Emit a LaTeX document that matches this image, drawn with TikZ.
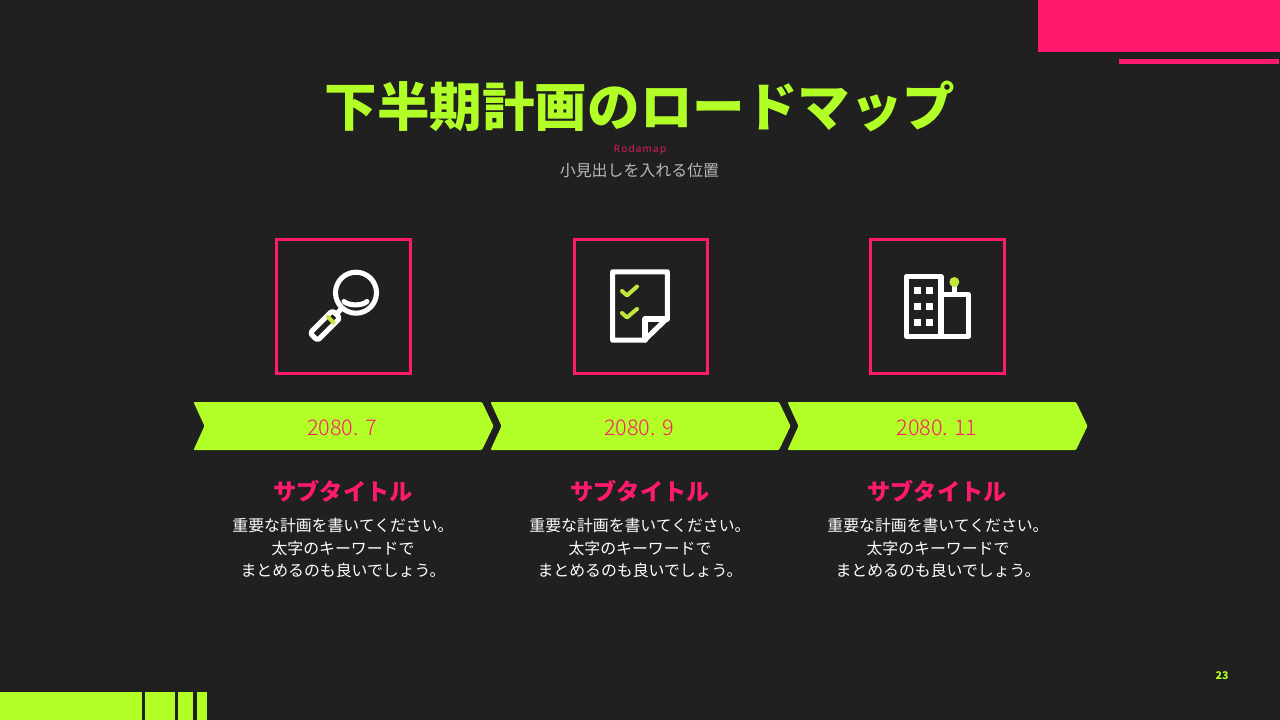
\documentclass[tikz,border=0pt]{standalone}
\usepackage{fontspec}
\newfontfamily\cjk{Noto Sans CJK JP}
\newfontfamily\cjklight{Noto Sans CJK JP Light}
\newfontfamily\latinspaced[LetterSpace=12]{Noto Sans}
\definecolor{bgdark}{HTML}{202020}
\definecolor{limegreen}{HTML}{B2FF27}
\definecolor{hotpink}{HTML}{FF1A6E}
\definecolor{icongreen}{HTML}{BFE83A}
\definecolor{subgray}{HTML}{B8B8B8}
\begin{document}
\begin{tikzpicture}[x=0.75pt,y=-0.75pt,
        iconbox/.style={draw=hotpink,line width=2.25pt},
        iconline/.style={draw=white,line width=3.8pt,line join=round,line cap=round},
        iconaccent/.style={draw=icongreen,line width=3pt,line join=round,line cap=round},
        chevron/.style={fill=limegreen,rounded corners=0.8pt},
        datelabel/.style={text=hotpink,inner sep=0pt,font=\cjklight\fontsize{16.2}{20}\selectfont},
        subtitle/.style={text=hotpink,inner sep=0pt,font=\cjk\bfseries\fontsize{17.4}{20}\selectfont},
        bodytext/.style={text=white,inner sep=0pt,align=center,font=\cjk\fontsize{11.9}{16.9}\selectfont}]
    \fill[bgdark] (0,0) rectangle (1280,720);
    \useasboundingbox (0,0) rectangle (1280,720);
    \fill[hotpink] (1038,0) rectangle (1280,52);
    \fill[hotpink] (1119,59) rectangle (1279,64.5);
    \fill[limegreen] (0,692) rectangle (142,720);
    \fill[limegreen] (145,692) rectangle (175,720);
    \fill[limegreen] (178,692) rectangle (193,720);
    \fill[limegreen] (197,692) rectangle (207,720);
    \node[inner sep=0pt,text=limegreen,font=\cjk\bfseries\fontsize{39.4}{46}\selectfont] (title) at (640,106) {下半期計画のロードマップ};
    \node[inner sep=0pt,text=hotpink!85!bgdark,font=\latinspaced\fontsize{7.5}{9}\selectfont] (rodamap) at (640,150) {Rodamap};
    \node[inner sep=0pt,text=subgray,font=\cjk\fontsize{11.95}{14}\selectfont] (subhead) at (639.5,170) {小見出しを入れる位置};
    \draw[iconbox] (276.5,239.5) rectangle (410.5,373.5);
    \draw[iconbox] (574,239.5) rectangle (707,373.5);
    \draw[iconbox] (870.5,239.5) rectangle (1004.5,373.5);
    \draw[iconline] (356,292.7) circle (20.5);
    \draw[iconline] (344,301.5) .. controls (349,306) and (362,306) .. (367,301.5);
    \draw[iconline] (341,309) -- (337,313.5);
    \draw[iconline,rounded corners=2pt] (340,318) -- (332.5,310.5) -- (310,333) -- (317.5,340.5) -- cycle;
    \draw[iconaccent] (328,317) -- (333.5,322.5);
    \draw[iconline] (612.6,271.8) -- (667.4,271.8) -- (667.4,318) -- (644.5,340.2) -- (612.6,340.2) -- cycle;
    \draw[iconline] (667.4,319) -- (645,319) -- (645,340.2);
    \draw[iconaccent] (622,291) -- (627,295.5) -- (637,286.5);
    \draw[iconaccent] (622,313) -- (627,317.5) -- (637,309);
    \draw[iconline] (906.5,276.5) -- (941,276.5) -- (941,336.5) -- (906.5,336.5) -- cycle;
    \draw[iconline] (941,294.5) -- (968.5,294.5) -- (968.5,336.5) -- (941,336.5);
    \draw[iconline] (954.3,287) -- (954.3,294);
    \fill[icongreen] (954.3,282) circle (5);
    \foreach \winx in {917.3,929}
        \foreach \winy in {290.7,306.3,322}
            \fill[white] (\winx-3.5,\winy-3.5) rectangle (\winx+3.5,\winy+3.5);
    \fill[chevron] (193.5,402) -- (482,402) -- (493.5,426) -- (482,450) -- (193.5,450) -- (204.5,426) -- cycle;
    \fill[chevron] (490.5,402) -- (779,402) -- (790.5,426) -- (779,450) -- (490.5,450) -- (501.5,426) -- cycle;
    \fill[chevron] (787.5,402) -- (1076,402) -- (1087.5,426) -- (1076,450) -- (787.5,450) -- (798.5,426) -- cycle;
    \node[datelabel] (date1) at (342,427.5) {2080. 7};
    \node[datelabel] (date2) at (639,427.5) {2080. 9};
    \node[datelabel] (date3) at (937,427.5) {2080. 11};
    \node[subtitle] (sub1) at (343,491) {サブタイトル};
    \node[subtitle] (sub2) at (640,491) {サブタイトル};
    \node[subtitle] (sub3) at (937,491) {サブタイトル};
    \node[bodytext] (body1) at (343,548) {重要な計画を書いてください。\\太字のキーワードで\\まとめるのも良いでしょう。};
    \node[bodytext] (body2) at (640,548) {重要な計画を書いてください。\\太字のキーワードで\\まとめるのも良いでしょう。};
    \node[bodytext] (body3) at (938,548) {重要な計画を書いてください。\\太字のキーワードで\\まとめるのも良いでしょう。};
    \node[inner sep=0pt,text=limegreen,font=\cjk\bfseries\fontsize{8}{10}\selectfont] (pagenum) at (1222,676) {23};
\end{tikzpicture}
\end{document}
